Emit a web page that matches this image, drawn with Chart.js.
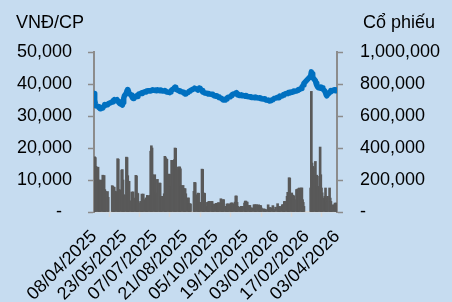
<!DOCTYPE html>
<html><head><meta charset="utf-8">
<script src="https://cdn.jsdelivr.net/npm/chart.js@4.4.1/dist/chart.umd.min.js"></script>
<style>html,body{margin:0;padding:0;background:#C6DCF0;}canvas{display:block;}</style>
</head><body>
<canvas id="c" width="452" height="302"></canvas>
<script>
const leftTitle = 'VNĐ/CP';
const rightTitle = 'Cổ phiếu';
const startDate = '08/04/2025';
const holidays = ['30/04/2025','01/05/2025','02/05/2025','01/09/2025','02/09/2025','01/01/2026',
  '16/02/2026','17/02/2026','18/02/2026','19/02/2026','20/02/2026'];
const tickLabels = ['08/04/2025','23/05/2025','07/07/2025','21/08/2025','05/10/2025','19/11/2025','03/01/2026','17/02/2026','03/04/2026'];
const priceTicks = [0,10000,20000,30000,40000,50000];
const volumeTicks = [0,200000,400000,600000,800000,1000000];

// Giá đóng cửa (VNĐ/CP), one line per trading week
const price = [
 37000,35000,33800,33200,
 33000,32700,32500,32300,32600,
 32500,32800,33200,33600,33400,
 33500,33800,
 34400,34700,34900,35100,34800,
 35100,34800,34500,34200,33900,
 33600,33400,34200,35500,36300,
 37200,38000,38300,37800,37000,
 36600,36100,35700,35500,35800,
 36000,36300,36100,36500,36800,
 37000,37200,37300,37100,37400,
 37600,37500,37800,37700,37900,
 37800,38000,37900,38100,38200,
 38000,38100,37900,38000,38200,
 38000,37900,38100,38000,37800,
 37900,38000,37800,37600,37500,
 37400,37300,37500,37700,38100,
 38500,38800,39000,38700,38300,
 38000,37900,37700,37800,37600,
 37400,37200,37000,36900,37000,
 37300,37500,37700,37800,38000,
 38500,38700,38600,
 38300,38100,38400,38700,38600,
 38000,37500,37400,37300,37200,
 37100,37000,36900,37000,36900,
 36800,36700,36800,36500,36300,
 36200,36300,36100,36000,35800,
 35600,35400,35300,35100,35000,
 35000,35300,35500,35800,35900,
 36000,36300,36500,36700,36800,
 37000,37200,37300,36900,36600,
 36400,36500,36600,36400,36300,
 36300,36200,36400,36300,36100,
 36000,35900,36000,35800,35900,
 35800,35700,35900,35800,35700,
 35600,35700,35500,35600,35400,
 35300,35400,35200,35100,35000,
 34900,34800,34700,34800,34900,
 35100,35300,35500,35600,
 35800,35700,36000,36200,36100,
 36300,36500,36700,36600,36900,
 37100,37000,37300,37200,37400,
 37500,37400,37600,37800,37700,
 37800,38000,38100,38300,38200,
 38600,39000,39300,39700,40200,
 42500,43800,43200,42300,41800,
 41000,40200,39600,39200,38900,
 38700,39100,39000,38800,38500,
 37800,37200,36600,36300,36700,
 37300,37600,38000,37800,37900,
 38200,38000,37900,38100,38000
];

// Khối lượng giao dịch (nghìn cổ phiếu), one line per trading week
const volumeThousands = [
 330,345,340,285,
 280,200,195,190,200,
 230,225,228,140,130,
 128,92,
 165,160,150,155,130,
 128,333,330,140,138,
 262,265,200,108,105,
 343,340,227,190,192,
 70,125,122,126,87,
 229,225,118,115,56,
 66,64,112,110,112,
 77,87,88,104,100,
 104,380,414,400,233,
 233,200,119,115,204,
 181,180,96,95,98,
 114,348,340,331,330,
 237,235,160,140,323,
 323,327,400,398,264,
 281,280,282,270,166,
 166,146,145,146,114,
 87,88,50,52,50,
 129,185,183,
 108,118,117,60,60,
 268,266,118,118,116,
 35,60,60,66,66,
 66,66,35,35,50,
 54,52,54,58,58,
 83,50,50,77,77,
 35,35,50,50,50,
 50,56,56,56,50,
 62,100,100,60,35,
 30,30,35,35,35,
 56,68,68,62,62,
 41,41,25,25,25,
 45,45,40,45,45,
 45,40,40,40,25,
 20,15,18,12,15,
 45,25,25,28,25,
 40,15,15,30,
 52,35,35,35,25,
 45,45,45,66,66,
 98,123,123,214,212,
 119,105,105,100,77,
 140,140,144,144,150,
 150,150,77,60,35,
 150,754,306,285,275,
 316,227,230,223,160,
 406,233,150,120,87,
 98,150,87,66,98,
 150,87,66,35,45,
 45,56,35,56,40
];

function parseDMY(s){const [d,m,y]=s.split('/').map(Number);return Date.UTC(y,m-1,d);}
const DAY = 86400000;
const t0 = parseDMY(startDate);
const hol = new Set(holidays.map(parseDMY));
const tradingDays = [];
for (let t = t0; tradingDays.length < price.length; t += DAY) {
  const wd = new Date(t).getUTCDay();
  if (wd === 0 || wd === 6 || hol.has(t)) continue;
  tradingDays.push(Math.round((t - t0) / DAY));
}
const tickDays = tickLabels.map(s => Math.round((parseDMY(s) - t0) / DAY));
function fmt(v){return String(Math.round(v)).replace(/\B(?=(\d{3})+(?!\d))/g, ',');}

const FONT = {family: "'Liberation Sans', Arial, sans-serif", size: 18};
const BG = '#C6DCF0';
const AXIS = '#8C8C8C';

const bgPlugin = {
  id: 'bg',
  beforeDraw(chart){const c=chart.ctx;c.save();c.fillStyle=BG;c.fillRect(0,0,chart.width,chart.height);c.restore();}
};
const titlePlugin = {
  id: 'titles',
  afterDraw(chart){
    const c=chart.ctx;c.save();
    c.font = "18px 'Liberation Sans', Arial, sans-serif";
    c.fillStyle='#000';c.textBaseline='alphabetic';
    c.textAlign='left';c.fillText(leftTitle,16,28);
    c.textAlign='right';c.fillText(rightTitle,435,28);
    c.restore();
  }
};

new Chart(document.getElementById('c'), {
  type: 'bar',
  data: {
    datasets: [
      {type:'line', label:'Giá', yAxisID:'y', order:0,
       data: tradingDays.map((d,i)=>({x:d, y:price[i]})),
       borderColor:'#0070C0', borderWidth:5.5, pointRadius:0, tension:0,
       borderJoinStyle:'round', borderCapStyle:'round'},
      {type:'bar', label:'Khối lượng', yAxisID:'y1', order:1,
       data: tradingDays.map((d,i)=>({x:d, y:volumeThousands[i]*1000})),
       backgroundColor:'#595959', barThickness:2}
    ]
  },
  options: {
    responsive:false, animation:false, devicePixelRatio:1,
    layout:{padding:{top:52,left:0,right:0,bottom:0}},
    plugins:{legend:{display:false}, tooltip:{enabled:false}},
    scales:{
      x:{type:'linear', min:0, max:tickDays[tickDays.length-1], offset:false,
        afterBuildTicks:s=>{s.ticks=tickDays.map(v=>({value:v}));},
        afterFit:s=>{s.height=90;},
        ticks:{autoSkip:false, minRotation:45, maxRotation:45, padding:9, color:'#000', font:FONT,
          callback:(v)=>{const i=tickDays.indexOf(v);return i>=0?tickLabels[i]:'';}},
        grid:{display:true, drawOnChartArea:false, drawTicks:true, tickLength:5, color:'#D9D9D9', tickColor:'#D9D9D9', tickWidth:1.5},
        border:{display:true, color:'#D9D9D9', width:1.5, dash:[3,2]}},
      y:{position:'left', min:0, max:50000,
        afterBuildTicks:s=>{s.ticks=priceTicks.map(v=>({value:v}));},
        afterFit:s=>{s.width=94;},
        ticks:{padding:16, color:'#000', font:FONT, callback:v=>v===0?'-\u00a0\u00a0':fmt(v)},
        grid:{display:true, drawOnChartArea:false, drawTicks:true, tickLength:6, color:AXIS, tickColor:AXIS, tickWidth:1.5},
        border:{display:true, color:AXIS, width:2}},
      y1:{position:'right', min:0, max:1000000,
        afterBuildTicks:s=>{s.ticks=volumeTicks.map(v=>({value:v}));},
        afterFit:s=>{s.width=115;},
        ticks:{padding:17, color:'#000', font:FONT, callback:v=>v===0?'-':fmt(v)},
        grid:{display:true, drawOnChartArea:false, drawTicks:true, tickLength:6, color:AXIS, tickColor:AXIS, tickWidth:1.5},
        border:{display:true, color:AXIS, width:2}}
    }
  },
  plugins:[bgPlugin, titlePlugin]
});
</script>
</body></html>
